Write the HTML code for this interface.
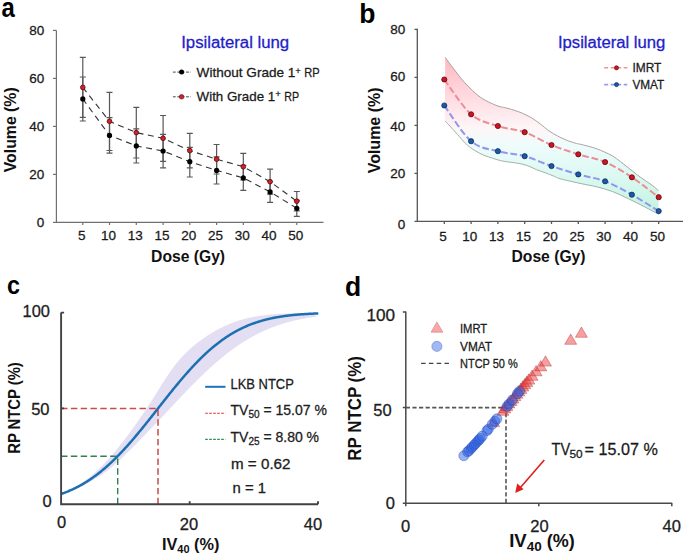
<!DOCTYPE html>
<html><head><meta charset="utf-8"><style>
html,body{margin:0;padding:0;background:#fff;overflow:hidden;width:685px;height:556px;}
svg{display:block;font-family:"Liberation Sans", sans-serif;}
text:not([font-weight]){stroke:#1a1a1a;stroke-width:0.28px;stroke-linejoin:round;}
text[fill="#1e1ec8"]{stroke:#1e1ec8;}
</style></head><body>
<svg width="685" height="556" viewBox="0 0 685 556">
<rect width="685" height="556" fill="#fff"/>
<text x="1.5" y="16.6" font-size="27" font-weight="bold" fill="#000" textLength="13.3" lengthAdjust="spacingAndGlyphs">a</text>
<g stroke="#707070" stroke-width="1.2" fill="none">
<path d="M56.4,30.4 V222.4 H323.5"/>
<path d="M53,222.4 H56.4"/>
<path d="M53,174.4 H56.4"/>
<path d="M53,126.4 H56.4"/>
<path d="M53,78.4 H56.4"/>
<path d="M53,30.4 H56.4"/>
<path d="M82.8,222.4 V225"/>
<path d="M109.5,222.4 V225"/>
<path d="M136.3,222.4 V225"/>
<path d="M163.1,222.4 V225"/>
<path d="M189.8,222.4 V225"/>
<path d="M216.6,222.4 V225"/>
<path d="M243.3,222.4 V225"/>
<path d="M270.1,222.4 V225"/>
<path d="M296.8,222.4 V225"/>
</g>
<g font-size="13.5" fill="#1a1a1a" text-anchor="end">
<text x="44.2" y="227.2">0</text>
<text x="44.2" y="179.2">20</text>
<text x="44.2" y="131.2">40</text>
<text x="44.2" y="83.2">60</text>
<text x="44.2" y="35.2">80</text>
</g>
<g font-size="13.5" fill="#1a1a1a" text-anchor="middle">
<text x="81.8" y="240.2">5</text>
<text x="108.5" y="240.2">10</text>
<text x="135.3" y="240.2">13</text>
<text x="162.1" y="240.2">15</text>
<text x="188.8" y="240.2">20</text>
<text x="215.6" y="240.2">25</text>
<text x="242.3" y="240.2">30</text>
<text x="269.1" y="240.2">40</text>
<text x="295.8" y="240.2">50</text>
</g>
<text x="188.1" y="261.8" font-size="16" font-weight="bold" text-anchor="middle" fill="#111" textLength="74" lengthAdjust="spacingAndGlyphs">Dose (Gy)</text>
<text transform="translate(16.4,129.8) rotate(-90)" font-size="16" font-weight="bold" text-anchor="middle" fill="#111" textLength="85" lengthAdjust="spacingAndGlyphs">Volume (%)</text>
<text x="181.2" y="47.8" font-size="16" fill="#1e1ec8" textLength="108" lengthAdjust="spacingAndGlyphs">Ipsilateral lung</text>
<g fill="none" stroke="#333" stroke-width="1.1" stroke-dasharray="6,4.5">
<polyline points="82.8,87.4 109.5,121.3 136.3,132.6 163.1,138.3 189.8,150.6 216.6,159.2 243.3,166.7 270.1,181.7 296.8,201.2"/>
<polyline points="82.8,98.9 109.5,135.4 136.3,145.9 163.1,151.0 189.8,161.7 216.6,170.4 243.3,177.9 270.1,191.9 296.8,208.3"/>
</g>
<g stroke="#585858" stroke-width="1.2" fill="none">
<path d="M82.8,57.4 V117.4 M79.8,57.4 h6 M79.8,117.4 h6"/>
<path d="M109.5,92.3 V150.5 M106.5,92.3 h6 M106.5,150.5 h6"/>
<path d="M136.3,107.4 V158.0 M133.3,107.4 h6 M133.3,158.0 h6"/>
<path d="M163.1,115.5 V161.3 M160.1,115.5 h6 M160.1,161.3 h6"/>
<path d="M189.8,133.3 V167.9 M186.8,133.3 h6 M186.8,167.9 h6"/>
<path d="M216.6,144.5 V174.0 M213.6,144.5 h6 M213.6,174.0 h6"/>
<path d="M243.3,153.4 V180.0 M240.3,153.4 h6 M240.3,180.0 h6"/>
<path d="M270.1,169.2 V194.2 M267.1,169.2 h6 M267.1,194.2 h6"/>
<path d="M296.8,191.5 V210.9 M293.8,191.5 h6 M293.8,210.9 h6"/>
<path d="M82.8,77.0 V121.0 M79.8,77.0 h6 M79.8,121.0 h6"/>
<path d="M109.5,117.6 V153.2 M106.5,117.6 h6 M106.5,153.2 h6"/>
<path d="M136.3,128.9 V163.0 M133.3,128.9 h6 M133.3,163.0 h6"/>
<path d="M163.1,134.4 V167.8 M160.1,134.4 h6 M160.1,167.8 h6"/>
<path d="M189.8,147.3 V177.0 M186.8,147.3 h6 M186.8,177.0 h6"/>
<path d="M216.6,156.9 V184.0 M213.6,156.9 h6 M213.6,184.0 h6"/>
<path d="M243.3,165.4 V190.4 M240.3,165.4 h6 M240.3,190.4 h6"/>
<path d="M270.1,181.5 V202.3 M267.1,181.5 h6 M267.1,202.3 h6"/>
<path d="M296.8,200.3 V216.3 M293.8,200.3 h6 M293.8,216.3 h6"/>
</g>
<circle cx="82.8" cy="98.9" r="2.6" fill="#000"/>
<circle cx="109.5" cy="135.4" r="2.6" fill="#000"/>
<circle cx="136.3" cy="145.9" r="2.6" fill="#000"/>
<circle cx="163.1" cy="151.0" r="2.6" fill="#000"/>
<circle cx="189.8" cy="161.7" r="2.6" fill="#000"/>
<circle cx="216.6" cy="170.4" r="2.6" fill="#000"/>
<circle cx="243.3" cy="177.9" r="2.6" fill="#000"/>
<circle cx="270.1" cy="191.9" r="2.6" fill="#000"/>
<circle cx="296.8" cy="208.3" r="2.6" fill="#000"/>
<circle cx="82.8" cy="87.4" r="2.35" fill="#d4202e" stroke="#5a0a0a" stroke-width="0.8"/>
<circle cx="109.5" cy="121.3" r="2.35" fill="#d4202e" stroke="#5a0a0a" stroke-width="0.8"/>
<circle cx="136.3" cy="132.6" r="2.35" fill="#d4202e" stroke="#5a0a0a" stroke-width="0.8"/>
<circle cx="163.1" cy="138.3" r="2.35" fill="#d4202e" stroke="#5a0a0a" stroke-width="0.8"/>
<circle cx="189.8" cy="150.6" r="2.35" fill="#d4202e" stroke="#5a0a0a" stroke-width="0.8"/>
<circle cx="216.6" cy="159.2" r="2.35" fill="#d4202e" stroke="#5a0a0a" stroke-width="0.8"/>
<circle cx="243.3" cy="166.7" r="2.35" fill="#d4202e" stroke="#5a0a0a" stroke-width="0.8"/>
<circle cx="270.1" cy="181.7" r="2.35" fill="#d4202e" stroke="#5a0a0a" stroke-width="0.8"/>
<circle cx="296.8" cy="201.2" r="2.35" fill="#d4202e" stroke="#5a0a0a" stroke-width="0.8"/>
<path d="M172.9,72.1 H191" stroke="#333" stroke-width="0.9" stroke-dasharray="2.8,1.6" fill="none"/>
<circle cx="181.6" cy="72.1" r="2.5" fill="#000"/>
<path d="M172.9,96.8 H191" stroke="#333" stroke-width="0.9" stroke-dasharray="2.8,1.6" fill="none"/>
<circle cx="181.6" cy="96.8" r="2.3" fill="#d4202e" stroke="#5a0a0a" stroke-width="0.6"/>
<g font-size="13.5" fill="#1a1a1a"><text x="196.6" y="77" textLength="98.8" lengthAdjust="spacingAndGlyphs">Without Grade 1</text><text x="295.6" y="73.9" font-size="8.8">+</text><text x="304.2" y="77" textLength="15.4" lengthAdjust="spacingAndGlyphs">RP</text>
<text x="196.6" y="101.2" textLength="78.6" lengthAdjust="spacingAndGlyphs">With Grade 1</text><text x="275.5" y="96.9" font-size="8.8">+</text><text x="284.2" y="101.2" textLength="14.8" lengthAdjust="spacingAndGlyphs">RP</text></g>
<text x="359.3" y="23.1" font-size="28.5" font-weight="bold" fill="#000" textLength="16.2" lengthAdjust="spacingAndGlyphs">b</text>
<defs><linearGradient id="gb" x1="0" y1="57" x2="0" y2="215" gradientUnits="userSpaceOnUse"><stop offset="0" stop-color="#ffb6c0"/><stop offset="0.25" stop-color="#ffdae0"/><stop offset="0.45" stop-color="#fdf6f7"/><stop offset="0.56" stop-color="#effcfc"/><stop offset="0.8" stop-color="#d6f8ef"/><stop offset="1" stop-color="#bff3de"/></linearGradient></defs>
<path d="M445.20,57.30 C446.13,58.60 448.97,62.63 450.80,65.10 C452.63,67.57 454.40,69.77 456.20,72.10 C458.00,74.43 459.80,76.93 461.60,79.10 C463.40,81.27 465.20,83.20 467.00,85.10 C468.80,87.00 470.60,88.80 472.40,90.50 C474.20,92.20 476.00,93.87 477.80,95.30 C479.60,96.73 481.40,97.98 483.20,99.10 C485.00,100.22 486.80,101.10 488.60,102.00 C490.40,102.90 492.10,103.72 494.00,104.50 C495.90,105.28 498.17,106.17 500.00,106.70 C501.83,107.23 502.70,107.13 505.00,107.70 C507.30,108.27 510.87,109.17 513.80,110.10 C516.73,111.03 519.68,112.03 522.60,113.30 C525.52,114.57 528.38,115.95 531.30,117.70 C534.22,119.45 537.18,121.62 540.10,123.80 C543.02,125.98 545.88,128.77 548.80,130.80 C551.72,132.83 554.67,134.45 557.60,136.00 C560.53,137.55 563.48,138.92 566.40,140.10 C569.32,141.28 572.83,142.42 575.10,143.10 C577.37,143.78 577.83,143.68 580.00,144.20 C582.17,144.72 585.40,145.47 588.10,146.20 C590.80,146.93 593.50,147.65 596.20,148.60 C598.90,149.55 601.60,150.68 604.30,151.90 C607.00,153.12 609.70,154.28 612.40,155.90 C615.10,157.52 617.80,159.58 620.50,161.60 C623.20,163.62 625.90,165.85 628.60,168.00 C631.30,170.15 634.02,172.47 636.70,174.50 C639.38,176.53 642.02,178.32 644.70,180.20 C647.38,182.08 650.50,184.05 652.80,185.80 C655.10,187.55 657.55,189.88 658.50,190.70 L658.50,214.20 C656.20,212.98 649.68,209.47 644.70,206.90 C639.72,204.33 633.98,201.37 628.60,198.80 C623.22,196.23 617.80,193.52 612.40,191.50 C607.00,189.48 601.60,188.05 596.20,186.70 C590.80,185.35 586.03,184.73 580.00,183.40 C573.97,182.07 564.35,179.90 560.00,178.70 C555.65,177.50 556.38,177.20 553.90,176.20 C551.42,175.20 548.02,173.80 545.10,172.70 C542.18,171.60 539.32,170.77 536.40,169.60 C533.48,168.43 530.53,166.73 527.60,165.70 C524.67,164.67 521.72,163.98 518.80,163.40 C515.88,162.82 513.02,162.63 510.10,162.20 C507.18,161.77 504.22,161.47 501.30,160.80 C498.38,160.13 495.52,159.13 492.60,158.20 C489.68,157.27 486.73,156.47 483.80,155.20 C480.87,153.93 477.92,152.43 475.00,150.60 C472.08,148.77 469.22,146.88 466.30,144.20 C463.38,141.52 460.42,137.72 457.50,134.50 C454.58,131.28 450.90,127.17 448.80,124.90 C446.70,122.63 445.55,121.57 444.90,120.90 Z" fill="url(#gb)" stroke="none"/>
<path d="M445.20,57.30 C446.13,58.60 448.97,62.63 450.80,65.10 C452.63,67.57 454.40,69.77 456.20,72.10 C458.00,74.43 459.80,76.93 461.60,79.10 C463.40,81.27 465.20,83.20 467.00,85.10 C468.80,87.00 470.60,88.80 472.40,90.50 C474.20,92.20 476.00,93.87 477.80,95.30 C479.60,96.73 481.40,97.98 483.20,99.10 C485.00,100.22 486.80,101.10 488.60,102.00 C490.40,102.90 492.10,103.72 494.00,104.50 C495.90,105.28 498.17,106.17 500.00,106.70 C501.83,107.23 502.70,107.13 505.00,107.70 C507.30,108.27 510.87,109.17 513.80,110.10 C516.73,111.03 519.68,112.03 522.60,113.30 C525.52,114.57 528.38,115.95 531.30,117.70 C534.22,119.45 537.18,121.62 540.10,123.80 C543.02,125.98 545.88,128.77 548.80,130.80 C551.72,132.83 554.67,134.45 557.60,136.00 C560.53,137.55 563.48,138.92 566.40,140.10 C569.32,141.28 572.83,142.42 575.10,143.10 C577.37,143.78 577.83,143.68 580.00,144.20 C582.17,144.72 585.40,145.47 588.10,146.20 C590.80,146.93 593.50,147.65 596.20,148.60 C598.90,149.55 601.60,150.68 604.30,151.90 C607.00,153.12 609.70,154.28 612.40,155.90 C615.10,157.52 617.80,159.58 620.50,161.60 C623.20,163.62 625.90,165.85 628.60,168.00 C631.30,170.15 634.02,172.47 636.70,174.50 C639.38,176.53 642.02,178.32 644.70,180.20 C647.38,182.08 650.50,184.05 652.80,185.80 C655.10,187.55 657.55,189.88 658.50,190.70" fill="none" stroke="#a09a9a" stroke-width="0.9"/>
<path d="M444.90,120.90 C445.55,121.57 446.70,122.63 448.80,124.90 C450.90,127.17 454.58,131.28 457.50,134.50 C460.42,137.72 463.38,141.52 466.30,144.20 C469.22,146.88 472.08,148.77 475.00,150.60 C477.92,152.43 480.87,153.93 483.80,155.20 C486.73,156.47 489.68,157.27 492.60,158.20 C495.52,159.13 498.38,160.13 501.30,160.80 C504.22,161.47 507.18,161.77 510.10,162.20 C513.02,162.63 515.88,162.82 518.80,163.40 C521.72,163.98 524.67,164.67 527.60,165.70 C530.53,166.73 533.48,168.43 536.40,169.60 C539.32,170.77 542.18,171.60 545.10,172.70 C548.02,173.80 551.42,175.20 553.90,176.20 C556.38,177.20 555.65,177.50 560.00,178.70 C564.35,179.90 573.97,182.07 580.00,183.40 C586.03,184.73 590.80,185.35 596.20,186.70 C601.60,188.05 607.00,189.48 612.40,191.50 C617.80,193.52 623.22,196.23 628.60,198.80 C633.98,201.37 639.72,204.33 644.70,206.90 C649.68,209.47 656.20,212.98 658.50,214.20" fill="none" stroke="#9aa89e" stroke-width="0.9"/>
<g stroke="#575757" stroke-width="1.3" fill="none">
<path d="M417.3,28.8 V221.4 H683"/>
<path d="M414.5,221.4 H417.3"/>
<path d="M414.5,173.4 H417.3"/>
<path d="M414.5,125.4 H417.3"/>
<path d="M414.5,77.4 H417.3"/>
<path d="M414.5,29.4 H417.3"/>
<path d="M444.3,221.4 V224"/>
<path d="M471.1,221.4 V224"/>
<path d="M497.9,221.4 V224"/>
<path d="M524.7,221.4 V224"/>
<path d="M551.5,221.4 V224"/>
<path d="M578.3,221.4 V224"/>
<path d="M605.1,221.4 V224"/>
<path d="M631.9,221.4 V224"/>
<path d="M658.7,221.4 V224"/>
</g>
<g font-size="13.5" fill="#1a1a1a" text-anchor="end">
<text x="405.2" y="228.8">0</text>
<text x="405.2" y="178.0">20</text>
<text x="405.2" y="130.8">40</text>
<text x="405.2" y="80.7">60</text>
<text x="405.2" y="33.9">80</text>
</g>
<g font-size="13.5" fill="#1a1a1a" text-anchor="middle">
<text x="443.0" y="240.6">5</text>
<text x="469.8" y="240.6">10</text>
<text x="496.6" y="240.6">13</text>
<text x="523.4" y="240.6">15</text>
<text x="550.2" y="240.6">20</text>
<text x="577.0" y="240.6">25</text>
<text x="603.8" y="240.6">30</text>
<text x="630.6" y="240.6">40</text>
<text x="657.4" y="240.6">50</text>
</g>
<text x="548.5" y="262.3" font-size="16" font-weight="bold" text-anchor="middle" fill="#111" textLength="74" lengthAdjust="spacingAndGlyphs">Dose (Gy)</text>
<text transform="translate(379.7,130.4) rotate(-90)" font-size="16" font-weight="bold" text-anchor="middle" fill="#111" textLength="85.8" lengthAdjust="spacingAndGlyphs">Volume (%)</text>
<text x="557.9" y="48.1" font-size="15.6" fill="#1e1ec8" textLength="107.5" lengthAdjust="spacingAndGlyphs">Ipsilateral lung</text>
<path d="M444.30,79.50 C448.77,85.30 462.17,106.55 471.10,114.30 C480.03,122.05 488.97,123.02 497.90,126.00 C506.83,128.98 515.77,129.03 524.70,132.20 C533.63,135.37 542.57,141.32 551.50,145.00 C560.43,148.68 569.37,151.45 578.30,154.30 C587.23,157.15 596.17,158.27 605.10,162.10 C614.03,165.93 622.97,171.45 631.90,177.30 C640.83,183.15 654.23,193.88 658.70,197.20" fill="none" stroke="#ee8c96" stroke-width="2" stroke-dasharray="6.8,2.8"/>
<path d="M444.30,105.50 C448.77,111.45 462.17,133.58 471.10,141.20 C480.03,148.82 488.97,148.70 497.90,151.20 C506.83,153.70 515.77,153.72 524.70,156.20 C533.63,158.68 542.57,163.07 551.50,166.10 C560.43,169.13 569.37,171.87 578.30,174.40 C587.23,176.93 596.17,177.92 605.10,181.30 C614.03,184.68 622.97,189.73 631.90,194.70 C640.83,199.67 654.23,208.37 658.70,211.10" fill="none" stroke="#9494f0" stroke-width="2" stroke-dasharray="6.8,2.8"/>
<circle cx="444.3" cy="79.5" r="2.6" fill="#cc1426" stroke="#500" stroke-width="0.7"/>
<circle cx="471.1" cy="114.3" r="2.6" fill="#cc1426" stroke="#500" stroke-width="0.7"/>
<circle cx="497.9" cy="126.0" r="2.6" fill="#cc1426" stroke="#500" stroke-width="0.7"/>
<circle cx="524.7" cy="132.2" r="2.6" fill="#cc1426" stroke="#500" stroke-width="0.7"/>
<circle cx="551.5" cy="145.0" r="2.6" fill="#cc1426" stroke="#500" stroke-width="0.7"/>
<circle cx="578.3" cy="154.3" r="2.6" fill="#cc1426" stroke="#500" stroke-width="0.7"/>
<circle cx="605.1" cy="162.1" r="2.6" fill="#cc1426" stroke="#500" stroke-width="0.7"/>
<circle cx="631.9" cy="177.3" r="2.6" fill="#cc1426" stroke="#500" stroke-width="0.7"/>
<circle cx="658.7" cy="197.2" r="2.6" fill="#cc1426" stroke="#500" stroke-width="0.7"/>
<circle cx="444.3" cy="105.5" r="2.6" fill="#1a58a8" stroke="#0a2550" stroke-width="0.7"/>
<circle cx="471.1" cy="141.2" r="2.6" fill="#1a58a8" stroke="#0a2550" stroke-width="0.7"/>
<circle cx="497.9" cy="151.2" r="2.6" fill="#1a58a8" stroke="#0a2550" stroke-width="0.7"/>
<circle cx="524.7" cy="156.2" r="2.6" fill="#1a58a8" stroke="#0a2550" stroke-width="0.7"/>
<circle cx="551.5" cy="166.1" r="2.6" fill="#1a58a8" stroke="#0a2550" stroke-width="0.7"/>
<circle cx="578.3" cy="174.4" r="2.6" fill="#1a58a8" stroke="#0a2550" stroke-width="0.7"/>
<circle cx="605.1" cy="181.3" r="2.6" fill="#1a58a8" stroke="#0a2550" stroke-width="0.7"/>
<circle cx="631.9" cy="194.7" r="2.6" fill="#1a58a8" stroke="#0a2550" stroke-width="0.7"/>
<circle cx="658.7" cy="211.1" r="2.6" fill="#1a58a8" stroke="#0a2550" stroke-width="0.7"/>
<path d="M604.2,67.8 H627.3" stroke="#f29292" stroke-width="1.6" stroke-dasharray="4,2.5"/>
<circle cx="616.5" cy="67.8" r="2.1" fill="#cc1426" stroke="#500" stroke-width="0.6"/>
<path d="M604.2,84.6 H627.3" stroke="#9a9af2" stroke-width="1.6" stroke-dasharray="4,2.5"/>
<circle cx="616.5" cy="84.6" r="2.1" fill="#1a58a8" stroke="#0a2550" stroke-width="0.6"/>
<text x="632.4" y="72.3" font-size="13" fill="#222" textLength="29" lengthAdjust="spacingAndGlyphs">IMRT</text>
<text x="632.4" y="89.4" font-size="13" fill="#222" textLength="31.9" lengthAdjust="spacingAndGlyphs">VMAT</text>
<text x="7" y="294.2" font-size="26.5" font-weight="bold" fill="#000" textLength="13" lengthAdjust="spacingAndGlyphs">c</text>
<path d="M61.40,493.86 L61.88,493.67 L62.35,493.48 L62.82,493.28 L63.28,493.09 L63.73,492.90 L64.18,492.71 L64.62,492.52 L65.06,492.33 L65.49,492.14 L65.92,491.94 L66.34,491.75 L66.75,491.56 L67.17,491.37 L67.57,491.18 L67.97,490.99 L68.37,490.79 L68.76,490.60 L69.15,490.41 L69.54,490.22 L69.92,490.03 L70.29,489.84 L70.67,489.65 L71.03,489.45 L71.40,489.26 L71.76,489.07 L72.12,488.88 L72.47,488.69 L72.83,488.50 L73.17,488.31 L73.52,488.11 L73.86,487.92 L74.20,487.73 L74.54,487.54 L74.87,487.35 L75.20,487.16 L75.53,486.96 L75.86,486.77 L76.18,486.58 L76.50,486.39 L76.81,486.20 L77.13,486.01 L77.44,485.82 L77.75,485.62 L78.06,485.43 L78.37,485.24 L78.67,485.05 L78.97,484.86 L79.27,484.67 L79.57,484.48 L79.86,484.28 L80.15,484.09 L80.44,483.90 L80.73,483.71 L81.02,483.52 L81.30,483.33 L81.59,483.13 L81.87,482.94 L82.15,482.75 L82.42,482.56 L82.70,482.37 L82.97,482.18 L83.25,481.99 L83.52,481.79 L83.79,481.60 L84.05,481.41 L84.32,481.22 L84.58,481.03 L84.85,480.84 L85.11,480.65 L85.37,480.45 L85.63,480.26 L85.88,480.07 L86.14,479.88 L86.39,479.69 L86.65,479.50 L86.90,479.31 L87.15,479.11 L87.40,478.92 L87.64,478.73 L87.89,478.54 L88.13,478.35 L88.38,478.16 L88.62,477.96 L88.86,477.77 L89.10,477.58 L89.34,477.39 L89.58,477.20 L89.81,477.01 L90.05,476.82 L90.28,476.62 L90.52,476.43 L90.75,476.24 L90.98,476.05 L91.21,475.86 L91.44,475.67 L91.67,475.47 L91.89,475.28 L92.12,475.09 L92.35,474.90 L92.57,474.71 L92.79,474.52 L93.02,474.33 L93.24,474.13 L93.46,473.94 L93.68,473.75 L93.89,473.56 L94.11,473.37 L94.33,473.18 L94.54,472.99 L94.76,472.79 L94.97,472.60 L95.19,472.41 L95.40,472.22 L95.61,472.03 L95.82,471.84 L96.03,471.64 L96.24,471.45 L96.45,471.26 L96.66,471.07 L96.87,470.88 L97.07,470.69 L97.28,470.50 L97.48,470.30 L97.69,470.11 L97.89,469.92 L98.09,469.73 L98.29,469.54 L98.50,469.35 L98.70,469.16 L98.90,468.96 L99.09,468.77 L99.29,468.58 L99.49,468.39 L99.69,468.20 L99.89,468.01 L100.08,467.81 L100.28,467.62 L100.47,467.43 L100.67,467.24 L100.86,467.05 L101.05,466.86 L101.24,466.67 L101.44,466.47 L101.63,466.28 L101.82,466.09 L102.01,465.90 L102.20,465.71 L102.39,465.52 L102.57,465.33 L102.76,465.13 L102.95,464.94 L103.14,464.75 L103.32,464.56 L103.51,464.37 L103.69,464.18 L103.88,463.99 L104.06,463.79 L104.25,463.60 L104.43,463.41 L104.61,463.22 L104.79,463.03 L104.98,462.84 L105.16,462.64 L105.34,462.45 L105.52,462.26 L105.70,462.07 L105.88,461.88 L106.06,461.69 L106.23,461.50 L106.41,461.30 L106.59,461.11 L106.77,460.92 L106.94,460.73 L107.12,460.54 L107.30,460.35 L107.47,460.15 L107.65,459.96 L107.82,459.77 L108.00,459.58 L108.17,459.39 L108.34,459.20 L108.52,459.01 L108.69,458.81 L108.86,458.62 L109.03,458.43 L109.20,458.24 L109.38,458.05 L109.55,457.86 L109.72,457.67 L109.89,457.47 L110.06,457.28 L110.23,457.09 L110.39,456.90 L110.56,456.71 L110.73,456.52 L110.90,456.32 L111.07,456.13 L111.23,455.94 L111.40,455.75 L111.57,455.56 L111.73,455.37 L111.90,455.18 L112.06,454.98 L112.23,454.79 L112.39,454.60 L112.56,454.41 L112.72,454.22 L112.89,454.03 L113.05,453.84 L113.21,453.64 L113.38,453.45 L113.54,453.26 L113.70,453.07 L113.86,452.88 L114.03,452.69 L114.19,452.50 L114.35,452.30 L114.51,452.11 L114.67,451.92 L114.83,451.73 L114.99,451.54 L115.15,451.35 L115.31,451.15 L115.47,450.96 L115.63,450.77 L115.79,450.58 L115.95,450.39 L116.10,450.20 L116.26,450.01 L116.42,449.81 L116.58,449.62 L116.74,449.43 L116.89,449.24 L117.05,449.05 L117.21,448.86 L117.36,448.66 L117.52,448.47 L117.67,448.28 L117.83,448.09 L117.98,447.90 L118.14,447.71 L118.29,447.52 L118.45,447.32 L118.60,447.13 L118.76,446.94 L118.91,446.75 L119.07,446.56 L119.22,446.37 L119.37,446.18 L119.53,445.98 L119.68,445.79 L119.83,445.60 L119.98,445.41 L120.14,445.22 L120.29,445.03 L120.44,444.83 L120.59,444.64 L120.74,444.45 L120.89,444.26 L121.05,444.07 L121.20,443.88 L121.35,443.69 L121.50,443.49 L121.65,443.30 L121.80,443.11 L121.95,442.92 L122.10,442.73 L122.25,442.54 L122.40,442.35 L122.55,442.15 L122.69,441.96 L122.84,441.77 L122.99,441.58 L123.14,441.39 L123.29,441.20 L123.44,441.00 L123.58,440.81 L123.73,440.62 L123.88,440.43 L124.03,440.24 L124.17,440.05 L124.32,439.86 L124.47,439.66 L124.61,439.47 L124.76,439.28 L124.91,439.09 L125.05,438.90 L125.20,438.71 L125.34,438.52 L125.49,438.32 L125.64,438.13 L125.78,437.94 L125.93,437.75 L126.07,437.56 L126.22,437.37 L126.36,437.17 L126.51,436.98 L126.65,436.79 L126.79,436.60 L126.94,436.41 L127.08,436.22 L127.23,436.03 L127.37,435.83 L127.51,435.64 L127.66,435.45 L127.80,435.26 L127.94,435.07 L128.09,434.88 L128.23,434.69 L128.37,434.49 L128.51,434.30 L128.66,434.11 L128.80,433.92 L128.94,433.73 L129.08,433.54 L129.23,433.34 L129.37,433.15 L129.51,432.96 L129.65,432.77 L129.79,432.58 L129.93,432.39 L130.07,432.20 L130.21,432.00 L130.35,431.81 L130.50,431.62 L130.64,431.43 L130.78,431.24 L130.92,431.05 L131.06,430.86 L131.20,430.66 L131.34,430.47 L131.48,430.28 L131.62,430.09 L131.76,429.90 L131.89,429.71 L132.03,429.51 L132.17,429.32 L132.31,429.13 L132.45,428.94 L132.59,428.75 L132.73,428.56 L132.87,428.37 L133.00,428.17 L133.14,427.98 L133.28,427.79 L133.42,427.60 L133.56,427.41 L133.69,427.22 L133.83,427.03 L133.97,426.83 L134.11,426.64 L134.24,426.45 L134.38,426.26 L134.52,426.07 L134.65,425.88 L134.79,425.69 L134.93,425.49 L135.06,425.30 L135.20,425.11 L135.34,424.92 L135.47,424.73 L135.61,424.54 L135.74,424.34 L135.88,424.15 L136.02,423.96 L136.15,423.77 L136.29,423.58 L136.42,423.39 L136.56,423.20 L136.69,423.00 L136.83,422.81 L136.96,422.62 L137.10,422.43 L137.23,422.24 L137.37,422.05 L137.50,421.86 L137.63,421.66 L137.77,421.47 L137.90,421.28 L138.04,421.09 L138.17,420.90 L138.30,420.71 L138.44,420.51 L138.57,420.32 L138.70,420.13 L138.84,419.94 L138.97,419.75 L139.10,419.56 L139.24,419.37 L139.37,419.17 L139.50,418.98 L139.63,418.79 L139.77,418.60 L139.90,418.41 L140.03,418.22 L140.16,418.02 L140.29,417.83 L140.43,417.64 L140.56,417.45 L140.69,417.26 L140.82,417.07 L140.95,416.88 L141.08,416.68 L141.21,416.49 L141.35,416.30 L141.48,416.11 L141.61,415.92 L141.74,415.73 L141.87,415.54 L142.00,415.34 L142.13,415.15 L142.26,414.96 L142.39,414.77 L142.52,414.58 L142.65,414.39 L142.78,414.19 L142.91,414.00 L143.04,413.81 L143.17,413.62 L143.30,413.43 L143.43,413.24 L143.56,413.05 L143.68,412.85 L143.81,412.66 L143.94,412.47 L144.07,412.28 L144.20,412.09 L144.33,411.90 L144.46,411.71 L144.58,411.51 L144.71,411.32 L144.84,411.13 L144.97,410.94 L145.10,410.75 L145.22,410.56 L145.35,410.37 L145.48,410.17 L145.60,409.98 L145.73,409.79 L145.86,409.60 L145.99,409.41 L146.11,409.22 L146.24,409.02 L146.37,408.83 L146.49,408.64 L146.62,408.45 L146.75,408.26 L146.87,408.07 L147.00,407.88 L147.12,407.68 L147.25,407.49 L147.38,407.30 L147.50,407.11 L147.63,406.92 L147.75,406.73 L147.88,406.53 L148.00,406.34 L148.13,406.15 L148.25,405.96 L148.38,405.77 L148.50,405.58 L148.63,405.39 L148.75,405.19 L148.88,405.00 L149.00,404.81 L149.12,404.62 L149.25,404.43 L149.37,404.24 L149.50,404.05 L149.62,403.85 L149.74,403.66 L149.87,403.47 L149.99,403.28 L150.12,403.09 L150.24,402.90 L150.36,402.70 L150.48,402.51 L150.61,402.32 L150.73,402.13 L150.85,401.94 L150.98,401.75 L151.10,401.56 L151.22,401.36 L151.34,401.17 L151.47,400.98 L151.59,400.79 L151.71,400.60 L151.83,400.41 L151.96,400.22 L152.08,400.02 L152.20,399.83 L152.32,399.64 L152.44,399.45 L152.57,399.26 L152.69,399.07 L152.81,398.88 L152.93,398.68 L153.05,398.49 L153.17,398.30 L153.29,398.11 L153.41,397.92 L153.54,397.73 L153.66,397.53 L153.78,397.34 L153.90,397.15 L154.02,396.96 L154.14,396.77 L154.26,396.58 L154.38,396.39 L154.50,396.19 L154.62,396.00 L154.74,395.81 L154.86,395.62 L154.98,395.43 L155.10,395.24 L155.22,395.05 L155.34,394.85 L155.46,394.66 L155.58,394.47 L155.70,394.28 L155.82,394.09 L155.94,393.90 L156.06,393.70 L156.18,393.51 L156.30,393.32 L156.42,393.13 L156.54,392.94 L156.66,392.75 L156.78,392.56 L156.90,392.36 L157.02,392.17 L157.14,391.98 L157.26,391.79 L157.38,391.60 L157.50,391.41 L157.62,391.21 L157.74,391.02 L157.86,390.83 L157.98,390.64 L158.10,390.45 L158.21,390.26 L158.33,390.07 L158.45,389.87 L158.57,389.68 L158.69,389.49 L158.81,389.30 L158.93,389.11 L159.05,388.92 L159.17,388.73 L159.29,388.53 L159.41,388.34 L159.53,388.15 L159.65,387.96 L159.77,387.77 L159.89,387.58 L160.01,387.38 L160.13,387.19 L160.24,387.00 L160.36,386.81 L160.48,386.62 L160.60,386.43 L160.72,386.24 L160.84,386.04 L160.96,385.85 L161.08,385.66 L161.20,385.47 L161.32,385.28 L161.44,385.09 L161.56,384.90 L161.68,384.70 L161.80,384.51 L161.92,384.32 L162.04,384.13 L162.16,383.94 L162.28,383.75 L162.41,383.56 L162.53,383.36 L162.65,383.17 L162.77,382.98 L162.89,382.79 L163.01,382.60 L163.13,382.41 L163.25,382.21 L163.37,382.02 L163.50,381.83 L163.62,381.64 L163.74,381.45 L163.86,381.26 L163.98,381.07 L164.10,380.87 L164.23,380.68 L164.35,380.49 L164.47,380.30 L164.59,380.11 L164.72,379.92 L164.84,379.72 L164.96,379.53 L165.09,379.34 L165.21,379.15 L165.33,378.96 L165.46,378.77 L165.58,378.58 L165.71,378.38 L165.83,378.19 L165.96,378.00 L166.08,377.81 L166.21,377.62 L166.33,377.43 L166.46,377.24 L166.58,377.04 L166.71,376.85 L166.83,376.66 L166.96,376.47 L167.09,376.28 L167.21,376.09 L167.34,375.89 L167.47,375.70 L167.60,375.51 L167.72,375.32 L167.85,375.13 L167.98,374.94 L168.11,374.75 L168.24,374.55 L168.37,374.36 L168.50,374.17 L168.63,373.98 L168.76,373.79 L168.89,373.60 L169.02,373.41 L169.15,373.21 L169.28,373.02 L169.41,372.83 L169.54,372.64 L169.68,372.45 L169.81,372.26 L169.94,372.06 L170.07,371.87 L170.21,371.68 L170.34,371.49 L170.48,371.30 L170.61,371.11 L170.75,370.92 L170.88,370.72 L171.02,370.53 L171.15,370.34 L171.29,370.15 L171.43,369.96 L171.56,369.77 L171.70,369.58 L171.84,369.38 L171.98,369.19 L172.12,369.00 L172.26,368.81 L172.40,368.62 L172.54,368.43 L172.68,368.24 L172.82,368.04 L172.96,367.85 L173.10,367.66 L173.25,367.47 L173.39,367.28 L173.53,367.09 L173.68,366.89 L173.82,366.70 L173.97,366.51 L174.11,366.32 L174.26,366.13 L174.40,365.94 L174.55,365.75 L174.70,365.55 L174.85,365.36 L174.99,365.17 L175.14,364.98 L175.29,364.79 L175.44,364.60 L175.59,364.40 L175.75,364.21 L175.90,364.02 L176.05,363.83 L176.20,363.64 L176.36,363.45 L176.51,363.26 L176.66,363.06 L176.82,362.87 L176.98,362.68 L177.13,362.49 L177.29,362.30 L177.45,362.11 L177.60,361.92 L177.76,361.72 L177.92,361.53 L178.08,361.34 L178.24,361.15 L178.41,360.96 L178.57,360.77 L178.73,360.57 L178.89,360.38 L179.06,360.19 L179.22,360.00 L179.39,359.81 L179.55,359.62 L179.72,359.43 L179.89,359.23 L180.06,359.04 L180.23,358.85 L180.40,358.66 L180.57,358.47 L180.74,358.28 L180.91,358.09 L181.08,357.89 L181.25,357.70 L181.43,357.51 L181.60,357.32 L181.78,357.13 L181.95,356.94 L182.13,356.75 L182.31,356.55 L182.49,356.36 L182.67,356.17 L182.85,355.98 L183.03,355.79 L183.21,355.60 L183.39,355.40 L183.57,355.21 L183.76,355.02 L183.94,354.83 L184.13,354.64 L184.32,354.45 L184.50,354.26 L184.69,354.06 L184.88,353.87 L185.07,353.68 L185.26,353.49 L185.45,353.30 L185.64,353.11 L185.84,352.91 L186.03,352.72 L186.23,352.53 L186.42,352.34 L186.62,352.15 L186.82,351.96 L187.02,351.77 L187.21,351.57 L187.41,351.38 L187.62,351.19 L187.82,351.00 L188.02,350.81 L188.22,350.62 L188.43,350.43 L188.64,350.23 L188.84,350.04 L189.05,349.85 L189.26,349.66 L189.47,349.47 L189.68,349.28 L189.89,349.08 L190.10,348.89 L190.31,348.70 L190.53,348.51 L190.74,348.32 L190.96,348.13 L191.18,347.94 L191.40,347.74 L191.61,347.55 L191.83,347.36 L192.06,347.17 L192.28,346.98 L192.50,346.79 L192.72,346.60 L192.95,346.40 L193.18,346.21 L193.40,346.02 L193.63,345.83 L193.86,345.64 L194.09,345.45 L194.32,345.25 L194.55,345.06 L194.79,344.87 L195.02,344.68 L195.26,344.49 L195.49,344.30 L195.73,344.11 L195.97,343.91 L196.21,343.72 L196.45,343.53 L196.69,343.34 L196.94,343.15 L197.18,342.96 L197.43,342.77 L197.67,342.57 L197.92,342.38 L198.17,342.19 L198.42,342.00 L198.67,341.81 L198.92,341.62 L199.18,341.42 L199.43,341.23 L199.69,341.04 L199.94,340.85 L200.20,340.66 L200.46,340.47 L200.72,340.28 L200.98,340.08 L201.25,339.89 L201.51,339.70 L201.78,339.51 L202.04,339.32 L202.31,339.13 L202.58,338.94 L202.85,338.74 L203.12,338.55 L203.39,338.36 L203.67,338.17 L203.94,337.98 L204.22,337.79 L204.50,337.60 L204.78,337.40 L205.06,337.21 L205.34,337.02 L205.63,336.83 L205.91,336.64 L206.20,336.45 L206.49,336.25 L206.78,336.06 L207.07,335.87 L207.36,335.68 L207.65,335.49 L207.95,335.30 L208.25,335.11 L208.54,334.91 L208.84,334.72 L209.15,334.53 L209.45,334.34 L209.75,334.15 L210.06,333.96 L210.37,333.76 L210.68,333.57 L210.99,333.38 L211.30,333.19 L211.62,333.00 L211.94,332.81 L212.26,332.62 L212.58,332.42 L212.90,332.23 L213.22,332.04 L213.55,331.85 L213.88,331.66 L214.21,331.47 L214.54,331.28 L214.88,331.08 L215.21,330.89 L215.55,330.70 L215.89,330.51 L216.24,330.32 L216.58,330.13 L216.93,329.93 L217.28,329.74 L217.64,329.55 L217.99,329.36 L218.35,329.17 L218.71,328.98 L219.07,328.79 L219.44,328.59 L219.81,328.40 L220.18,328.21 L220.56,328.02 L220.94,327.83 L221.32,327.64 L221.70,327.45 L222.09,327.25 L222.48,327.06 L222.87,326.87 L223.27,326.68 L223.67,326.49 L224.08,326.30 L224.49,326.11 L224.90,325.91 L225.32,325.72 L225.74,325.53 L226.17,325.34 L226.60,325.15 L227.03,324.96 L227.47,324.76 L227.92,324.57 L228.37,324.38 L228.82,324.19 L229.28,324.00 L229.75,323.81 L230.22,323.62 L230.70,323.42 L231.18,323.23 L231.67,323.04 L232.17,322.85 L232.67,322.66 L233.18,322.47 L233.70,322.27 L234.23,322.08 L234.76,321.89 L235.31,321.70 L235.86,321.51 L236.42,321.32 L236.99,321.13 L237.57,320.93 L238.17,320.74 L238.77,320.55 L239.38,320.36 L240.01,320.17 L240.65,319.98 L241.30,319.79 L241.97,319.59 L242.65,319.40 L243.35,319.21 L244.07,319.02 L244.80,318.83 L245.55,318.64 L246.32,318.44 L247.11,318.25 L247.93,318.06 L248.77,317.87 L249.64,317.68 L250.53,317.49 L251.45,317.30 L252.41,317.10 L253.40,316.91 L254.43,316.72 L255.51,316.53 L256.63,316.34 L257.80,316.15 L259.03,315.96 L260.32,315.76 L261.68,315.57 L263.12,315.38 L264.66,315.19 L266.30,315.00 L268.06,314.81 L269.97,314.62 L272.05,314.42 L274.34,314.23 L276.91,314.04 L279.82,313.85 L283.19,313.66 L287.24,313.47 L292.31,313.27 L299.22,313.08 L310.47,312.89 L317.15,316.53 L315.70,316.72 L314.31,316.91 L312.97,317.10 L311.68,317.30 L310.43,317.49 L309.23,317.68 L308.06,317.87 L306.93,318.06 L305.83,318.25 L304.76,318.44 L303.73,318.64 L302.71,318.83 L301.73,319.02 L300.77,319.21 L299.83,319.40 L298.92,319.59 L298.02,319.79 L297.14,319.98 L296.29,320.17 L295.45,320.36 L294.62,320.55 L293.82,320.74 L293.03,320.93 L292.25,321.13 L291.49,321.32 L290.74,321.51 L290.00,321.70 L289.28,321.89 L288.57,322.08 L287.87,322.27 L287.18,322.47 L286.50,322.66 L285.83,322.85 L285.18,323.04 L284.53,323.23 L283.89,323.42 L283.26,323.62 L282.64,323.81 L282.02,324.00 L281.42,324.19 L280.82,324.38 L280.23,324.57 L279.65,324.76 L279.07,324.96 L278.51,325.15 L277.95,325.34 L277.39,325.53 L276.84,325.72 L276.30,325.91 L275.76,326.11 L275.23,326.30 L274.71,326.49 L274.19,326.68 L273.68,326.87 L273.17,327.06 L272.66,327.25 L272.17,327.45 L271.67,327.64 L271.18,327.83 L270.70,328.02 L270.22,328.21 L269.74,328.40 L269.27,328.59 L268.81,328.79 L268.35,328.98 L267.89,329.17 L267.43,329.36 L266.98,329.55 L266.54,329.74 L266.09,329.93 L265.65,330.13 L265.22,330.32 L264.79,330.51 L264.36,330.70 L263.93,330.89 L263.51,331.08 L263.09,331.28 L262.68,331.47 L262.26,331.66 L261.85,331.85 L261.45,332.04 L261.04,332.23 L260.64,332.42 L260.25,332.62 L259.85,332.81 L259.46,333.00 L259.07,333.19 L258.68,333.38 L258.30,333.57 L257.91,333.76 L257.54,333.96 L257.16,334.15 L256.78,334.34 L256.41,334.53 L256.04,334.72 L255.67,334.91 L255.31,335.11 L254.94,335.30 L254.58,335.49 L254.22,335.68 L253.87,335.87 L253.51,336.06 L253.16,336.25 L252.81,336.45 L252.46,336.64 L252.11,336.83 L251.77,337.02 L251.42,337.21 L251.08,337.40 L250.74,337.60 L250.41,337.79 L250.07,337.98 L249.74,338.17 L249.40,338.36 L249.07,338.55 L248.74,338.74 L248.42,338.94 L248.09,339.13 L247.77,339.32 L247.45,339.51 L247.12,339.70 L246.80,339.89 L246.49,340.08 L246.17,340.28 L245.86,340.47 L245.54,340.66 L245.23,340.85 L244.92,341.04 L244.61,341.23 L244.30,341.42 L244.00,341.62 L243.69,341.81 L243.39,342.00 L243.09,342.19 L242.78,342.38 L242.48,342.57 L242.19,342.77 L241.89,342.96 L241.59,343.15 L241.30,343.34 L241.00,343.53 L240.71,343.72 L240.42,343.91 L240.13,344.11 L239.84,344.30 L239.55,344.49 L239.27,344.68 L238.98,344.87 L238.70,345.06 L238.41,345.25 L238.13,345.45 L237.85,345.64 L237.57,345.83 L237.29,346.02 L237.01,346.21 L236.73,346.40 L236.46,346.60 L236.18,346.79 L235.91,346.98 L235.63,347.17 L235.36,347.36 L235.09,347.55 L234.82,347.74 L234.55,347.94 L234.28,348.13 L234.01,348.32 L233.75,348.51 L233.48,348.70 L233.21,348.89 L232.95,349.08 L232.69,349.28 L232.42,349.47 L232.16,349.66 L231.90,349.85 L231.64,350.04 L231.38,350.23 L231.12,350.43 L230.87,350.62 L230.61,350.81 L230.35,351.00 L230.10,351.19 L229.84,351.38 L229.59,351.57 L229.34,351.77 L229.08,351.96 L228.83,352.15 L228.58,352.34 L228.33,352.53 L228.08,352.72 L227.83,352.91 L227.58,353.11 L227.34,353.30 L227.09,353.49 L226.84,353.68 L226.60,353.87 L226.35,354.06 L226.11,354.26 L225.87,354.45 L225.62,354.64 L225.38,354.83 L225.14,355.02 L224.90,355.21 L224.66,355.40 L224.42,355.60 L224.18,355.79 L223.94,355.98 L223.70,356.17 L223.47,356.36 L223.23,356.55 L222.99,356.75 L222.76,356.94 L222.52,357.13 L222.29,357.32 L222.06,357.51 L221.82,357.70 L221.59,357.89 L221.36,358.09 L221.13,358.28 L220.89,358.47 L220.66,358.66 L220.43,358.85 L220.20,359.04 L219.97,359.23 L219.75,359.43 L219.52,359.62 L219.29,359.81 L219.06,360.00 L218.84,360.19 L218.61,360.38 L218.39,360.57 L218.16,360.77 L217.94,360.96 L217.71,361.15 L217.49,361.34 L217.26,361.53 L217.04,361.72 L216.82,361.92 L216.60,362.11 L216.38,362.30 L216.16,362.49 L215.93,362.68 L215.71,362.87 L215.50,363.06 L215.28,363.26 L215.06,363.45 L214.84,363.64 L214.62,363.83 L214.40,364.02 L214.19,364.21 L213.97,364.40 L213.75,364.60 L213.54,364.79 L213.32,364.98 L213.11,365.17 L212.89,365.36 L212.68,365.55 L212.46,365.75 L212.25,365.94 L212.04,366.13 L211.82,366.32 L211.61,366.51 L211.40,366.70 L211.19,366.89 L210.98,367.09 L210.76,367.28 L210.55,367.47 L210.34,367.66 L210.13,367.85 L209.92,368.04 L209.71,368.24 L209.50,368.43 L209.30,368.62 L209.09,368.81 L208.88,369.00 L208.67,369.19 L208.46,369.38 L208.26,369.58 L208.05,369.77 L207.84,369.96 L207.64,370.15 L207.43,370.34 L207.23,370.53 L207.02,370.72 L206.82,370.92 L206.61,371.11 L206.41,371.30 L206.20,371.49 L206.00,371.68 L205.80,371.87 L205.59,372.06 L205.39,372.26 L205.19,372.45 L204.99,372.64 L204.78,372.83 L204.58,373.02 L204.38,373.21 L204.18,373.41 L203.98,373.60 L203.78,373.79 L203.58,373.98 L203.38,374.17 L203.18,374.36 L202.98,374.55 L202.78,374.75 L202.58,374.94 L202.38,375.13 L202.18,375.32 L201.98,375.51 L201.79,375.70 L201.59,375.89 L201.39,376.09 L201.19,376.28 L201.00,376.47 L200.80,376.66 L200.60,376.85 L200.41,377.04 L200.21,377.24 L200.01,377.43 L199.82,377.62 L199.62,377.81 L199.43,378.00 L199.23,378.19 L199.04,378.38 L198.84,378.58 L198.65,378.77 L198.45,378.96 L198.26,379.15 L198.07,379.34 L197.87,379.53 L197.68,379.72 L197.49,379.92 L197.29,380.11 L197.10,380.30 L196.91,380.49 L196.72,380.68 L196.52,380.87 L196.33,381.07 L196.14,381.26 L195.95,381.45 L195.76,381.64 L195.56,381.83 L195.37,382.02 L195.18,382.21 L194.99,382.41 L194.80,382.60 L194.61,382.79 L194.42,382.98 L194.23,383.17 L194.04,383.36 L193.85,383.56 L193.66,383.75 L193.47,383.94 L193.28,384.13 L193.09,384.32 L192.90,384.51 L192.72,384.70 L192.53,384.90 L192.34,385.09 L192.15,385.28 L191.96,385.47 L191.77,385.66 L191.59,385.85 L191.40,386.04 L191.21,386.24 L191.02,386.43 L190.84,386.62 L190.65,386.81 L190.46,387.00 L190.28,387.19 L190.09,387.38 L189.90,387.58 L189.72,387.77 L189.53,387.96 L189.34,388.15 L189.16,388.34 L188.97,388.53 L188.79,388.73 L188.60,388.92 L188.41,389.11 L188.23,389.30 L188.04,389.49 L187.86,389.68 L187.67,389.87 L187.49,390.07 L187.30,390.26 L187.12,390.45 L186.94,390.64 L186.75,390.83 L186.57,391.02 L186.38,391.21 L186.20,391.41 L186.01,391.60 L185.83,391.79 L185.65,391.98 L185.46,392.17 L185.28,392.36 L185.10,392.56 L184.91,392.75 L184.73,392.94 L184.55,393.13 L184.36,393.32 L184.18,393.51 L184.00,393.70 L183.81,393.90 L183.63,394.09 L183.45,394.28 L183.27,394.47 L183.08,394.66 L182.90,394.85 L182.72,395.05 L182.54,395.24 L182.35,395.43 L182.17,395.62 L181.99,395.81 L181.81,396.00 L181.63,396.19 L181.44,396.39 L181.26,396.58 L181.08,396.77 L180.90,396.96 L180.72,397.15 L180.54,397.34 L180.35,397.53 L180.17,397.73 L179.99,397.92 L179.81,398.11 L179.63,398.30 L179.45,398.49 L179.27,398.68 L179.09,398.88 L178.91,399.07 L178.72,399.26 L178.54,399.45 L178.36,399.64 L178.18,399.83 L178.00,400.02 L177.82,400.22 L177.64,400.41 L177.46,400.60 L177.28,400.79 L177.10,400.98 L176.92,401.17 L176.74,401.36 L176.56,401.56 L176.38,401.75 L176.20,401.94 L176.02,402.13 L175.84,402.32 L175.66,402.51 L175.48,402.70 L175.30,402.90 L175.12,403.09 L174.94,403.28 L174.76,403.47 L174.58,403.66 L174.40,403.85 L174.22,404.05 L174.04,404.24 L173.86,404.43 L173.68,404.62 L173.50,404.81 L173.32,405.00 L173.14,405.19 L172.96,405.39 L172.78,405.58 L172.60,405.77 L172.42,405.96 L172.24,406.15 L172.06,406.34 L171.88,406.53 L171.70,406.73 L171.52,406.92 L171.34,407.11 L171.17,407.30 L170.99,407.49 L170.81,407.68 L170.63,407.88 L170.45,408.07 L170.27,408.26 L170.09,408.45 L169.91,408.64 L169.73,408.83 L169.55,409.02 L169.37,409.22 L169.19,409.41 L169.01,409.60 L168.83,409.79 L168.65,409.98 L168.47,410.17 L168.29,410.37 L168.11,410.56 L167.93,410.75 L167.75,410.94 L167.58,411.13 L167.40,411.32 L167.22,411.51 L167.04,411.71 L166.86,411.90 L166.68,412.09 L166.50,412.28 L166.32,412.47 L166.14,412.66 L165.96,412.85 L165.78,413.05 L165.60,413.24 L165.42,413.43 L165.24,413.62 L165.06,413.81 L164.88,414.00 L164.70,414.19 L164.52,414.39 L164.34,414.58 L164.16,414.77 L163.98,414.96 L163.80,415.15 L163.62,415.34 L163.44,415.54 L163.26,415.73 L163.08,415.92 L162.90,416.11 L162.72,416.30 L162.54,416.49 L162.36,416.68 L162.17,416.88 L161.99,417.07 L161.81,417.26 L161.63,417.45 L161.45,417.64 L161.27,417.83 L161.09,418.02 L160.91,418.22 L160.73,418.41 L160.55,418.60 L160.37,418.79 L160.19,418.98 L160.00,419.17 L159.82,419.37 L159.64,419.56 L159.46,419.75 L159.28,419.94 L159.10,420.13 L158.92,420.32 L158.73,420.51 L158.55,420.71 L158.37,420.90 L158.19,421.09 L158.01,421.28 L157.82,421.47 L157.64,421.66 L157.46,421.86 L157.28,422.05 L157.09,422.24 L156.91,422.43 L156.73,422.62 L156.55,422.81 L156.36,423.00 L156.18,423.20 L156.00,423.39 L155.81,423.58 L155.63,423.77 L155.45,423.96 L155.27,424.15 L155.08,424.34 L154.90,424.54 L154.71,424.73 L154.53,424.92 L154.35,425.11 L154.16,425.30 L153.98,425.49 L153.80,425.69 L153.61,425.88 L153.43,426.07 L153.24,426.26 L153.06,426.45 L152.87,426.64 L152.69,426.83 L152.50,427.03 L152.32,427.22 L152.13,427.41 L151.95,427.60 L151.76,427.79 L151.58,427.98 L151.39,428.17 L151.21,428.37 L151.02,428.56 L150.83,428.75 L150.65,428.94 L150.46,429.13 L150.27,429.32 L150.09,429.51 L149.90,429.71 L149.71,429.90 L149.53,430.09 L149.34,430.28 L149.15,430.47 L148.97,430.66 L148.78,430.86 L148.59,431.05 L148.41,431.24 L148.23,431.43 L148.04,431.62 L147.86,431.81 L147.68,432.00 L147.50,432.20 L147.32,432.39 L147.13,432.58 L146.95,432.77 L146.77,432.96 L146.59,433.15 L146.40,433.34 L146.22,433.54 L146.04,433.73 L145.85,433.92 L145.67,434.11 L145.49,434.30 L145.31,434.49 L145.12,434.69 L144.94,434.88 L144.76,435.07 L144.57,435.26 L144.39,435.45 L144.21,435.64 L144.02,435.83 L143.84,436.03 L143.66,436.22 L143.47,436.41 L143.29,436.60 L143.10,436.79 L142.92,436.98 L142.74,437.17 L142.55,437.37 L142.37,437.56 L142.18,437.75 L142.00,437.94 L141.81,438.13 L141.63,438.32 L141.45,438.52 L141.26,438.71 L141.08,438.90 L140.89,439.09 L140.71,439.28 L140.52,439.47 L140.34,439.66 L140.15,439.86 L139.96,440.05 L139.78,440.24 L139.59,440.43 L139.41,440.62 L139.22,440.81 L139.04,441.00 L138.85,441.20 L138.66,441.39 L138.48,441.58 L138.29,441.77 L138.10,441.96 L137.92,442.15 L137.73,442.35 L137.54,442.54 L137.36,442.73 L137.17,442.92 L136.98,443.11 L136.79,443.30 L136.61,443.49 L136.42,443.69 L136.23,443.88 L136.04,444.07 L135.85,444.26 L135.67,444.45 L135.48,444.64 L135.29,444.83 L135.10,445.03 L134.91,445.22 L134.72,445.41 L134.53,445.60 L134.34,445.79 L134.15,445.98 L133.96,446.18 L133.77,446.37 L133.58,446.56 L133.39,446.75 L133.20,446.94 L133.01,447.13 L132.82,447.32 L132.63,447.52 L132.44,447.71 L132.25,447.90 L132.06,448.09 L131.87,448.28 L131.67,448.47 L131.48,448.66 L131.29,448.86 L131.10,449.05 L130.90,449.24 L130.71,449.43 L130.52,449.62 L130.33,449.81 L130.13,450.01 L129.94,450.20 L129.75,450.39 L129.55,450.58 L129.36,450.77 L129.16,450.96 L128.97,451.15 L128.77,451.35 L128.58,451.54 L128.38,451.73 L128.19,451.92 L127.99,452.11 L127.80,452.30 L127.60,452.50 L127.40,452.69 L127.21,452.88 L127.01,453.07 L126.81,453.26 L126.62,453.45 L126.42,453.64 L126.22,453.84 L126.02,454.03 L125.82,454.22 L125.63,454.41 L125.43,454.60 L125.23,454.79 L125.03,454.98 L124.83,455.18 L124.63,455.37 L124.43,455.56 L124.23,455.75 L124.03,455.94 L123.83,456.13 L123.63,456.32 L123.43,456.52 L123.22,456.71 L123.02,456.90 L122.82,457.09 L122.62,457.28 L122.41,457.47 L122.21,457.67 L122.01,457.86 L121.80,458.05 L121.60,458.24 L121.39,458.43 L121.19,458.62 L120.98,458.81 L120.78,459.01 L120.57,459.20 L120.37,459.39 L120.16,459.58 L119.95,459.77 L119.75,459.96 L119.54,460.15 L119.33,460.35 L119.12,460.54 L118.91,460.73 L118.71,460.92 L118.50,461.11 L118.29,461.30 L118.08,461.50 L117.87,461.69 L117.66,461.88 L117.44,462.07 L117.23,462.26 L117.02,462.45 L116.81,462.64 L116.60,462.84 L116.38,463.03 L116.17,463.22 L115.96,463.41 L115.74,463.60 L115.53,463.79 L115.31,463.99 L115.10,464.18 L114.88,464.37 L114.66,464.56 L114.45,464.75 L114.23,464.94 L114.01,465.13 L113.79,465.33 L113.57,465.52 L113.36,465.71 L113.14,465.90 L112.92,466.09 L112.70,466.28 L112.47,466.47 L112.25,466.67 L112.03,466.86 L111.81,467.05 L111.58,467.24 L111.36,467.43 L111.14,467.62 L110.91,467.81 L110.69,468.01 L110.46,468.20 L110.24,468.39 L110.01,468.58 L109.78,468.77 L109.55,468.96 L109.30,469.16 L109.04,469.35 L108.79,469.54 L108.53,469.73 L108.28,469.92 L108.02,470.11 L107.76,470.30 L107.50,470.50 L107.24,470.69 L106.98,470.88 L106.72,471.07 L106.45,471.26 L106.19,471.45 L105.92,471.64 L105.66,471.84 L105.39,472.03 L105.12,472.22 L104.85,472.41 L104.58,472.60 L104.31,472.79 L104.04,472.99 L103.77,473.18 L103.49,473.37 L103.22,473.56 L102.94,473.75 L102.66,473.94 L102.38,474.13 L102.10,474.33 L101.82,474.52 L101.54,474.71 L101.25,474.90 L100.97,475.09 L100.68,475.28 L100.39,475.47 L100.10,475.67 L99.81,475.86 L99.52,476.05 L99.23,476.24 L98.93,476.43 L98.64,476.62 L98.34,476.82 L98.04,477.01 L97.74,477.20 L97.44,477.39 L97.14,477.58 L96.83,477.77 L96.53,477.96 L96.22,478.16 L95.91,478.35 L95.60,478.54 L95.29,478.73 L94.98,478.92 L94.66,479.11 L94.34,479.31 L94.02,479.50 L93.70,479.69 L93.38,479.88 L93.06,480.07 L92.73,480.26 L92.40,480.45 L92.08,480.65 L91.74,480.84 L91.41,481.03 L91.08,481.22 L90.74,481.41 L90.40,481.60 L90.06,481.79 L89.71,481.99 L89.37,482.18 L89.02,482.37 L88.67,482.56 L88.32,482.75 L87.97,482.94 L87.61,483.13 L87.25,483.33 L86.89,483.52 L86.53,483.71 L86.16,483.90 L85.79,484.09 L85.42,484.28 L85.05,484.48 L84.67,484.67 L84.29,484.86 L83.91,485.05 L83.52,485.24 L83.14,485.43 L82.75,485.62 L82.35,485.82 L81.96,486.01 L81.56,486.20 L81.16,486.39 L80.75,486.58 L80.34,486.77 L79.93,486.96 L79.51,487.16 L79.09,487.35 L78.67,487.54 L78.24,487.73 L77.81,487.92 L77.38,488.11 L76.94,488.31 L76.50,488.50 L76.05,488.69 L75.60,488.88 L75.15,489.07 L74.69,489.26 L74.23,489.45 L73.76,489.65 L73.29,489.84 L72.81,490.03 L72.33,490.22 L71.84,490.41 L71.35,490.60 L70.85,490.79 L70.34,490.99 L69.83,491.18 L69.32,491.37 L68.80,491.56 L68.27,491.75 L67.74,491.94 L67.20,492.14 L66.65,492.33 L66.10,492.52 L65.54,492.71 L64.97,492.90 L64.39,493.09 L63.81,493.28 L63.22,493.48 L62.62,493.67 L62.01,493.86 L61.39,494.05 Z" fill="#e4def3"/>
<path d="M61.1,408.4 H158.0 V504.2" fill="none" stroke="#cc4b44" stroke-width="1.5" stroke-dasharray="6.4,3.4"/>
<path d="M61.1,456.3 H117.7 V504.2" fill="none" stroke="#317f52" stroke-width="1.4" stroke-dasharray="6.4,3.4"/>
<path d="M61.10,493.98 L61.74,493.75 L62.39,493.52 L63.03,493.29 L63.67,493.06 L64.31,492.81 L64.96,492.57 L65.60,492.32 L66.24,492.07 L66.89,491.81 L67.53,491.55 L68.17,491.29 L68.82,491.02 L69.46,490.74 L70.10,490.46 L70.75,490.18 L71.39,489.90 L72.03,489.60 L72.67,489.31 L73.32,489.01 L73.96,488.70 L74.60,488.39 L75.25,488.08 L75.89,487.76 L76.53,487.44 L77.17,487.11 L77.82,486.77 L78.46,486.44 L79.10,486.09 L79.75,485.75 L80.39,485.39 L81.03,485.04 L81.68,484.67 L82.32,484.31 L82.96,483.93 L83.61,483.56 L84.25,483.17 L84.89,482.79 L85.53,482.39 L86.18,482.00 L86.82,481.59 L87.46,481.19 L88.11,480.77 L88.75,480.35 L89.39,479.93 L90.03,479.50 L90.68,479.07 L91.32,478.63 L91.96,478.19 L92.61,477.74 L93.25,477.28 L93.89,476.82 L94.54,476.36 L95.18,475.88 L95.82,475.41 L96.47,474.93 L97.11,474.44 L97.75,473.95 L98.39,473.45 L99.04,472.95 L99.68,472.44 L100.32,471.93 L100.97,471.41 L101.61,470.89 L102.25,470.36 L102.90,469.82 L103.54,469.28 L104.18,468.74 L104.82,468.19 L105.47,467.63 L106.11,467.07 L106.75,466.51 L107.40,465.94 L108.04,465.36 L108.68,464.78 L109.32,464.19 L109.97,463.60 L110.61,463.01 L111.25,462.40 L111.90,461.80 L112.54,461.19 L113.18,460.57 L113.83,459.95 L114.47,459.32 L115.11,458.69 L115.75,458.05 L116.40,457.41 L117.04,456.77 L117.68,456.12 L118.33,455.46 L118.97,454.80 L119.61,454.14 L120.26,453.47 L120.90,452.79 L121.54,452.12 L122.19,451.43 L122.83,450.75 L123.47,450.06 L124.11,449.36 L124.76,448.66 L125.40,447.96 L126.04,447.25 L126.69,446.54 L127.33,445.82 L127.97,445.10 L128.62,444.38 L129.26,443.65 L129.90,442.92 L130.54,442.19 L131.19,441.45 L131.83,440.71 L132.47,439.96 L133.12,439.21 L133.76,438.46 L134.40,437.70 L135.04,436.95 L135.69,436.18 L136.33,435.42 L136.97,434.65 L137.62,433.88 L138.26,433.11 L138.90,432.33 L139.55,431.55 L140.19,430.77 L140.83,429.99 L141.47,429.20 L142.12,428.41 L142.76,427.62 L143.40,426.83 L144.05,426.04 L144.69,425.24 L145.33,424.44 L145.98,423.64 L146.62,422.84 L147.26,422.03 L147.91,421.23 L148.55,420.42 L149.19,419.61 L149.83,418.80 L150.48,417.99 L151.12,417.18 L151.76,416.37 L152.41,415.55 L153.05,414.74 L153.69,413.92 L154.34,413.11 L154.98,412.29 L155.62,411.47 L156.26,410.66 L156.91,409.84 L157.55,409.02 L158.19,408.20 L158.84,407.39 L159.48,406.57 L160.12,405.75 L160.76,404.94 L161.41,404.12 L162.05,403.30 L162.69,402.49 L163.34,401.67 L163.98,400.86 L164.62,400.05 L165.27,399.23 L165.91,398.42 L166.55,397.61 L167.19,396.80 L167.84,396.00 L168.48,395.19 L169.12,394.38 L169.77,393.58 L170.41,392.78 L171.05,391.98 L171.70,391.18 L172.34,390.39 L172.98,389.59 L173.62,388.80 L174.27,388.01 L174.91,387.23 L175.55,386.44 L176.20,385.66 L176.84,384.88 L177.48,384.10 L178.13,383.33 L178.77,382.56 L179.41,381.79 L180.06,381.02 L180.70,380.26 L181.34,379.50 L181.98,378.74 L182.63,377.99 L183.27,377.24 L183.91,376.49 L184.56,375.75 L185.20,375.01 L185.84,374.27 L186.48,373.54 L187.13,372.81 L187.77,372.09 L188.41,371.36 L189.06,370.65 L189.70,369.93 L190.34,369.22 L190.99,368.52 L191.63,367.82 L192.27,367.12 L192.91,366.43 L193.56,365.74 L194.20,365.06 L194.84,364.38 L195.49,363.70 L196.13,363.03 L196.77,362.36 L197.42,361.70 L198.06,361.05 L198.70,360.39 L199.34,359.75 L199.99,359.10 L200.63,358.46 L201.27,357.83 L201.92,357.20 L202.56,356.58 L203.20,355.96 L203.85,355.35 L204.49,354.74 L205.13,354.13 L205.77,353.54 L206.42,352.94 L207.06,352.35 L207.70,351.77 L208.35,351.19 L208.99,350.62 L209.63,350.05 L210.28,349.49 L210.92,348.93 L211.56,348.38 L212.20,347.83 L212.85,347.29 L213.49,346.76 L214.13,346.22 L214.78,345.70 L215.42,345.18 L216.06,344.66 L216.71,344.15 L217.35,343.65 L217.99,343.15 L218.63,342.65 L219.28,342.17 L219.92,341.68 L220.56,341.20 L221.21,340.73 L221.85,340.26 L222.49,339.80 L223.14,339.35 L223.78,338.89 L224.42,338.45 L225.06,338.01 L225.71,337.57 L226.35,337.14 L226.99,336.71 L227.64,336.29 L228.28,335.88 L228.92,335.47 L229.57,335.06 L230.21,334.66 L230.85,334.27 L231.49,333.88 L232.14,333.50 L232.78,333.12 L233.42,332.74 L234.07,332.37 L234.71,332.01 L235.35,331.65 L236.00,331.30 L236.64,330.95 L237.28,330.60 L237.92,330.26 L238.57,329.93 L239.21,329.60 L239.85,329.27 L240.50,328.95 L241.14,328.63 L241.78,328.32 L242.43,328.01 L243.07,327.71 L243.71,327.41 L244.35,327.12 L245.00,326.83 L245.64,326.55 L246.28,326.27 L246.93,325.99 L247.57,325.72 L248.21,325.45 L248.86,325.19 L249.50,324.93 L250.14,324.68 L250.78,324.43 L251.43,324.18 L252.07,323.94 L252.71,323.70 L253.36,323.47 L254.00,323.24 L254.64,323.01 L255.29,322.79 L255.93,322.57 L256.57,322.36 L257.21,322.15 L257.86,321.94 L258.50,321.73 L259.14,321.53 L259.79,321.34 L260.43,321.15 L261.07,320.96 L261.72,320.77 L262.36,320.59 L263.00,320.41 L263.64,320.23 L264.29,320.06 L264.93,319.89 L265.57,319.72 L266.22,319.56 L266.86,319.40 L267.50,319.24 L268.15,319.09 L268.79,318.94 L269.43,318.79 L270.07,318.65 L270.72,318.51 L271.36,318.37 L272.00,318.23 L272.65,318.10 L273.29,317.96 L273.93,317.84 L274.58,317.71 L275.22,317.59 L275.86,317.47 L276.50,317.35 L277.15,317.23 L277.79,317.12 L278.43,317.01 L279.08,316.90 L279.72,316.79 L280.36,316.69 L281.01,316.59 L281.65,316.49 L282.29,316.39 L282.94,316.30 L283.58,316.20 L284.22,316.11 L284.86,316.02 L285.51,315.94 L286.15,315.85 L286.79,315.77 L287.44,315.69 L288.08,315.61 L288.72,315.53 L289.37,315.46 L290.01,315.38 L290.65,315.31 L291.29,315.24 L291.94,315.17 L292.58,315.10 L293.22,315.04 L293.87,314.97 L294.51,314.91 L295.15,314.85 L295.80,314.79 L296.44,314.73 L297.08,314.67 L297.72,314.62 L298.37,314.56 L299.01,314.51 L299.65,314.46 L300.30,314.41 L300.94,314.36 L301.58,314.31 L302.23,314.27 L302.87,314.22 L303.51,314.18 L304.15,314.13 L304.80,314.09 L305.44,314.05 L306.08,314.01 L306.73,313.97 L307.37,313.94 L308.01,313.90 L308.65,313.86 L309.30,313.83 L309.94,313.80 L310.58,313.76 L311.23,313.73 L311.87,313.70 L312.51,313.67 L313.16,313.64 L313.80,313.61 L314.44,313.58 L315.08,313.56 L315.73,313.53 L316.37,313.50 L317.01,313.48 L317.66,313.45 L318.30,313.43" fill="none" stroke="#1c70b2" stroke-width="2.5"/>
<g stroke="#424242" stroke-width="1.9" fill="none">
<path d="M61.1,312.6 V504.2 H318"/>
<path d="M61.1,312.6 h3 M61.1,408.4 h3 M189.7,504.2 v-3 M318,504.2 v-3"/>
</g>
<g font-size="16.5" fill="#222" text-anchor="end">
<text x="50" y="317.2" textLength="27.4" lengthAdjust="spacingAndGlyphs">100</text>
<text x="49.5" y="415.0">50</text>
<text x="51.8" y="507.4">0</text>
</g>
<g font-size="16.5" fill="#222" text-anchor="middle">
<text x="61.6" y="528.4">0</text>
<text x="189" y="529.8">20</text>
<text x="313" y="529.8">40</text>
</g>
<text x="161.9" y="549.5" font-size="16.3" font-weight="bold" fill="#111">IV<tspan font-size="11" dy="3">40</tspan><tspan dy="-3"> (%)</tspan></text>
<text transform="translate(20.2,408) rotate(-90)" font-size="17" font-weight="bold" text-anchor="middle" fill="#111" textLength="91.6" lengthAdjust="spacingAndGlyphs">RP NTCP (%)</text>
<path d="M205.2,386.8 H225.5" stroke="#1b73b8" stroke-width="2"/>
<path d="M205.2,413.2 H225.5" stroke="#e03030" stroke-width="1.1" stroke-dasharray="2.6,1.4"/>
<path d="M205.2,439.4 H225.5" stroke="#2e8a4e" stroke-width="1.1" stroke-dasharray="2.6,1.4"/>
<g font-size="14" fill="#222">
<text x="230.5" y="388.7" textLength="63.3" lengthAdjust="spacingAndGlyphs">LKB NTCP</text>
<text x="230.5" y="414.9">TV<tspan font-size="10" dy="3">50</tspan><tspan dy="-3"> = 15.07 %</tspan></text>
<text x="230.5" y="442">TV<tspan font-size="10" dy="3">25</tspan><tspan dy="-3"> = 8.80 %</tspan></text>
<text x="231" y="468.6" textLength="59.5" lengthAdjust="spacingAndGlyphs">m = 0.62</text>
<text x="232.5" y="492.7" textLength="33.5" lengthAdjust="spacingAndGlyphs">n = 1</text>
</g>
<text x="345" y="295.7" font-size="28.5" font-weight="bold" fill="#000" textLength="16.2" lengthAdjust="spacingAndGlyphs">d</text>
<g stroke="#4a4a4a" stroke-width="1.5" fill="none">
<path d="M405.8,311.5 V503.3 H672.2"/>
<path d="M402.8,312 H405.8 M402.8,407.6 H405.8 M402.8,503.3 H405.8"/>
<path d="M405.8,503.3 v3 M538.8,503.3 v3 M671.8,503.3 v3"/>
</g>
<path d="M405.8,407.6 H506.0 V503.3" fill="none" stroke="#555" stroke-width="1.6" stroke-dasharray="4.2,2.4"/>
<path d="M493.6,416.3 l6,10.3 h-12 z" fill="rgba(235,50,50,0.47)" stroke="rgba(170,40,40,0.55)" stroke-width="0.7"/>
<path d="M502.9,405.0 l6,10.3 h-12 z" fill="rgba(235,50,50,0.47)" stroke="rgba(170,40,40,0.55)" stroke-width="0.7"/>
<path d="M504.9,402.5 l6,10.3 h-12 z" fill="rgba(235,50,50,0.47)" stroke="rgba(170,40,40,0.55)" stroke-width="0.7"/>
<path d="M506.9,400.1 l6,10.3 h-12 z" fill="rgba(235,50,50,0.47)" stroke="rgba(170,40,40,0.55)" stroke-width="0.7"/>
<path d="M508.9,397.6 l6,10.3 h-12 z" fill="rgba(235,50,50,0.47)" stroke="rgba(170,40,40,0.55)" stroke-width="0.7"/>
<path d="M510.9,395.2 l6,10.3 h-12 z" fill="rgba(235,50,50,0.47)" stroke="rgba(170,40,40,0.55)" stroke-width="0.7"/>
<path d="M512.9,392.8 l6,10.3 h-12 z" fill="rgba(235,50,50,0.47)" stroke="rgba(170,40,40,0.55)" stroke-width="0.7"/>
<path d="M514.9,390.3 l6,10.3 h-12 z" fill="rgba(235,50,50,0.47)" stroke="rgba(170,40,40,0.55)" stroke-width="0.7"/>
<path d="M516.9,387.9 l6,10.3 h-12 z" fill="rgba(235,50,50,0.47)" stroke="rgba(170,40,40,0.55)" stroke-width="0.7"/>
<path d="M518.9,385.5 l6,10.3 h-12 z" fill="rgba(235,50,50,0.47)" stroke="rgba(170,40,40,0.55)" stroke-width="0.7"/>
<path d="M520.8,383.1 l6,10.3 h-12 z" fill="rgba(235,50,50,0.47)" stroke="rgba(170,40,40,0.55)" stroke-width="0.7"/>
<path d="M522.8,380.7 l6,10.3 h-12 z" fill="rgba(235,50,50,0.47)" stroke="rgba(170,40,40,0.55)" stroke-width="0.7"/>
<path d="M524.8,378.4 l6,10.3 h-12 z" fill="rgba(235,50,50,0.47)" stroke="rgba(170,40,40,0.55)" stroke-width="0.7"/>
<path d="M526.8,376.1 l6,10.3 h-12 z" fill="rgba(235,50,50,0.47)" stroke="rgba(170,40,40,0.55)" stroke-width="0.7"/>
<path d="M528.8,373.8 l6,10.3 h-12 z" fill="rgba(235,50,50,0.47)" stroke="rgba(170,40,40,0.55)" stroke-width="0.7"/>
<path d="M532.1,370.0 l6,10.3 h-12 z" fill="rgba(235,50,50,0.47)" stroke="rgba(170,40,40,0.55)" stroke-width="0.7"/>
<path d="M536.1,365.5 l6,10.3 h-12 z" fill="rgba(235,50,50,0.47)" stroke="rgba(170,40,40,0.55)" stroke-width="0.7"/>
<path d="M540.8,360.6 l6,10.3 h-12 z" fill="rgba(235,50,50,0.47)" stroke="rgba(170,40,40,0.55)" stroke-width="0.7"/>
<path d="M545.5,355.8 l6,10.3 h-12 z" fill="rgba(235,50,50,0.47)" stroke="rgba(170,40,40,0.55)" stroke-width="0.7"/>
<path d="M570.7,334.0 l6,10.3 h-12 z" fill="rgba(235,50,50,0.47)" stroke="rgba(170,40,40,0.55)" stroke-width="0.7"/>
<path d="M581.4,327.0 l6,10.3 h-12 z" fill="rgba(235,50,50,0.47)" stroke="rgba(170,40,40,0.55)" stroke-width="0.7"/>
<circle cx="463.8" cy="455.8" r="5" fill="rgba(45,100,230,0.5)" stroke="rgba(30,60,170,0.55)" stroke-width="0.7"/>
<circle cx="467.6" cy="451.9" r="5" fill="rgba(45,100,230,0.5)" stroke="rgba(30,60,170,0.55)" stroke-width="0.7"/>
<circle cx="469.0" cy="450.6" r="5" fill="rgba(45,100,230,0.5)" stroke="rgba(30,60,170,0.55)" stroke-width="0.7"/>
<circle cx="471.0" cy="448.5" r="5" fill="rgba(45,100,230,0.5)" stroke="rgba(30,60,170,0.55)" stroke-width="0.7"/>
<circle cx="472.3" cy="447.1" r="5" fill="rgba(45,100,230,0.5)" stroke="rgba(30,60,170,0.55)" stroke-width="0.7"/>
<circle cx="474.3" cy="445.0" r="5" fill="rgba(45,100,230,0.5)" stroke="rgba(30,60,170,0.55)" stroke-width="0.7"/>
<circle cx="475.6" cy="443.5" r="5" fill="rgba(45,100,230,0.5)" stroke="rgba(30,60,170,0.55)" stroke-width="0.7"/>
<circle cx="477.6" cy="441.4" r="5" fill="rgba(45,100,230,0.5)" stroke="rgba(30,60,170,0.55)" stroke-width="0.7"/>
<circle cx="479.0" cy="439.9" r="5" fill="rgba(45,100,230,0.5)" stroke="rgba(30,60,170,0.55)" stroke-width="0.7"/>
<circle cx="480.3" cy="438.4" r="5" fill="rgba(45,100,230,0.5)" stroke="rgba(30,60,170,0.55)" stroke-width="0.7"/>
<circle cx="482.3" cy="436.1" r="5" fill="rgba(45,100,230,0.5)" stroke="rgba(30,60,170,0.55)" stroke-width="0.7"/>
<circle cx="486.9" cy="430.7" r="5" fill="rgba(45,100,230,0.5)" stroke="rgba(30,60,170,0.55)" stroke-width="0.7"/>
<circle cx="488.3" cy="429.2" r="5" fill="rgba(45,100,230,0.5)" stroke="rgba(30,60,170,0.55)" stroke-width="0.7"/>
<circle cx="492.2" cy="424.4" r="5" fill="rgba(45,100,230,0.5)" stroke="rgba(30,60,170,0.55)" stroke-width="0.7"/>
<circle cx="494.9" cy="421.2" r="5" fill="rgba(45,100,230,0.5)" stroke="rgba(30,60,170,0.55)" stroke-width="0.7"/>
<circle cx="496.9" cy="418.8" r="5" fill="rgba(45,100,230,0.5)" stroke="rgba(30,60,170,0.55)" stroke-width="0.7"/>
<circle cx="506.9" cy="406.6" r="5" fill="rgba(45,100,230,0.5)" stroke="rgba(30,60,170,0.55)" stroke-width="0.7"/>
<circle cx="508.9" cy="404.1" r="5" fill="rgba(45,100,230,0.5)" stroke="rgba(30,60,170,0.55)" stroke-width="0.7"/>
<circle cx="512.2" cy="400.1" r="5" fill="rgba(45,100,230,0.5)" stroke="rgba(30,60,170,0.55)" stroke-width="0.7"/>
<circle cx="517.5" cy="393.6" r="5" fill="rgba(45,100,230,0.5)" stroke="rgba(30,60,170,0.55)" stroke-width="0.7"/>
<circle cx="519.5" cy="391.2" r="5" fill="rgba(45,100,230,0.5)" stroke="rgba(30,60,170,0.55)" stroke-width="0.7"/>
<path d="M544.3,459.9 L520.0,488.0" stroke="#e01e1e" stroke-width="1.6"/>
<path d="M515.2,492.9 L517.2,483.6 L523.6,489.2 Z" fill="#e01e1e"/>
<g font-size="16.8" fill="#1a1a1a"><text x="551.5" y="455" textLength="18.6" lengthAdjust="spacingAndGlyphs">TV</text><text x="569.4" y="457.6" font-size="11.8" textLength="13.2" lengthAdjust="spacingAndGlyphs">50</text><text x="584.6" y="455" textLength="73.2" lengthAdjust="spacingAndGlyphs">= 15.07 %</text></g>
<g font-size="16.5" fill="#222" text-anchor="end">
<text x="395" y="321.2" textLength="28.6" lengthAdjust="spacingAndGlyphs">100</text>
<text x="391.6" y="416">50</text>
<text x="395" y="509">0</text>
</g>
<g font-size="16.5" fill="#222" text-anchor="middle">
<text x="405.6" y="531.6">0</text>
<text x="539.5" y="532">20</text>
<text x="671.8" y="532">40</text>
</g>
<text x="509.2" y="546.5" font-size="18.5" font-weight="bold" fill="#111">IV<tspan font-size="13.5" dy="4.6">40</tspan><tspan dy="-4.6" font-size="18"> (%)</tspan></text>
<text transform="translate(361.1,408.4) rotate(-90)" font-size="18" font-weight="bold" text-anchor="middle" fill="#111" textLength="104.5" lengthAdjust="spacingAndGlyphs">RP NTCP (%)</text>
<path d="M436.9,321.9 L443,332.2 H431 Z" fill="rgba(235,50,50,0.42)" stroke="rgba(190,40,40,0.45)" stroke-width="0.7"/>
<circle cx="436.9" cy="346.4" r="5.1" fill="rgba(45,100,230,0.45)" stroke="rgba(30,60,170,0.45)" stroke-width="0.7"/>
<path d="M421.1,363.4 H449.2" stroke="#444" stroke-width="1.3" stroke-dasharray="4.5,3.3"/>
<g font-size="12" fill="#222">
<text x="460" y="332.8" textLength="27.2" lengthAdjust="spacingAndGlyphs">IMRT</text>
<text x="460" y="350.6" textLength="32" lengthAdjust="spacingAndGlyphs">VMAT</text>
<text x="460" y="368.2" textLength="57.8" lengthAdjust="spacingAndGlyphs">NTCP 50 %</text>
</g>
</svg>
</body></html>
